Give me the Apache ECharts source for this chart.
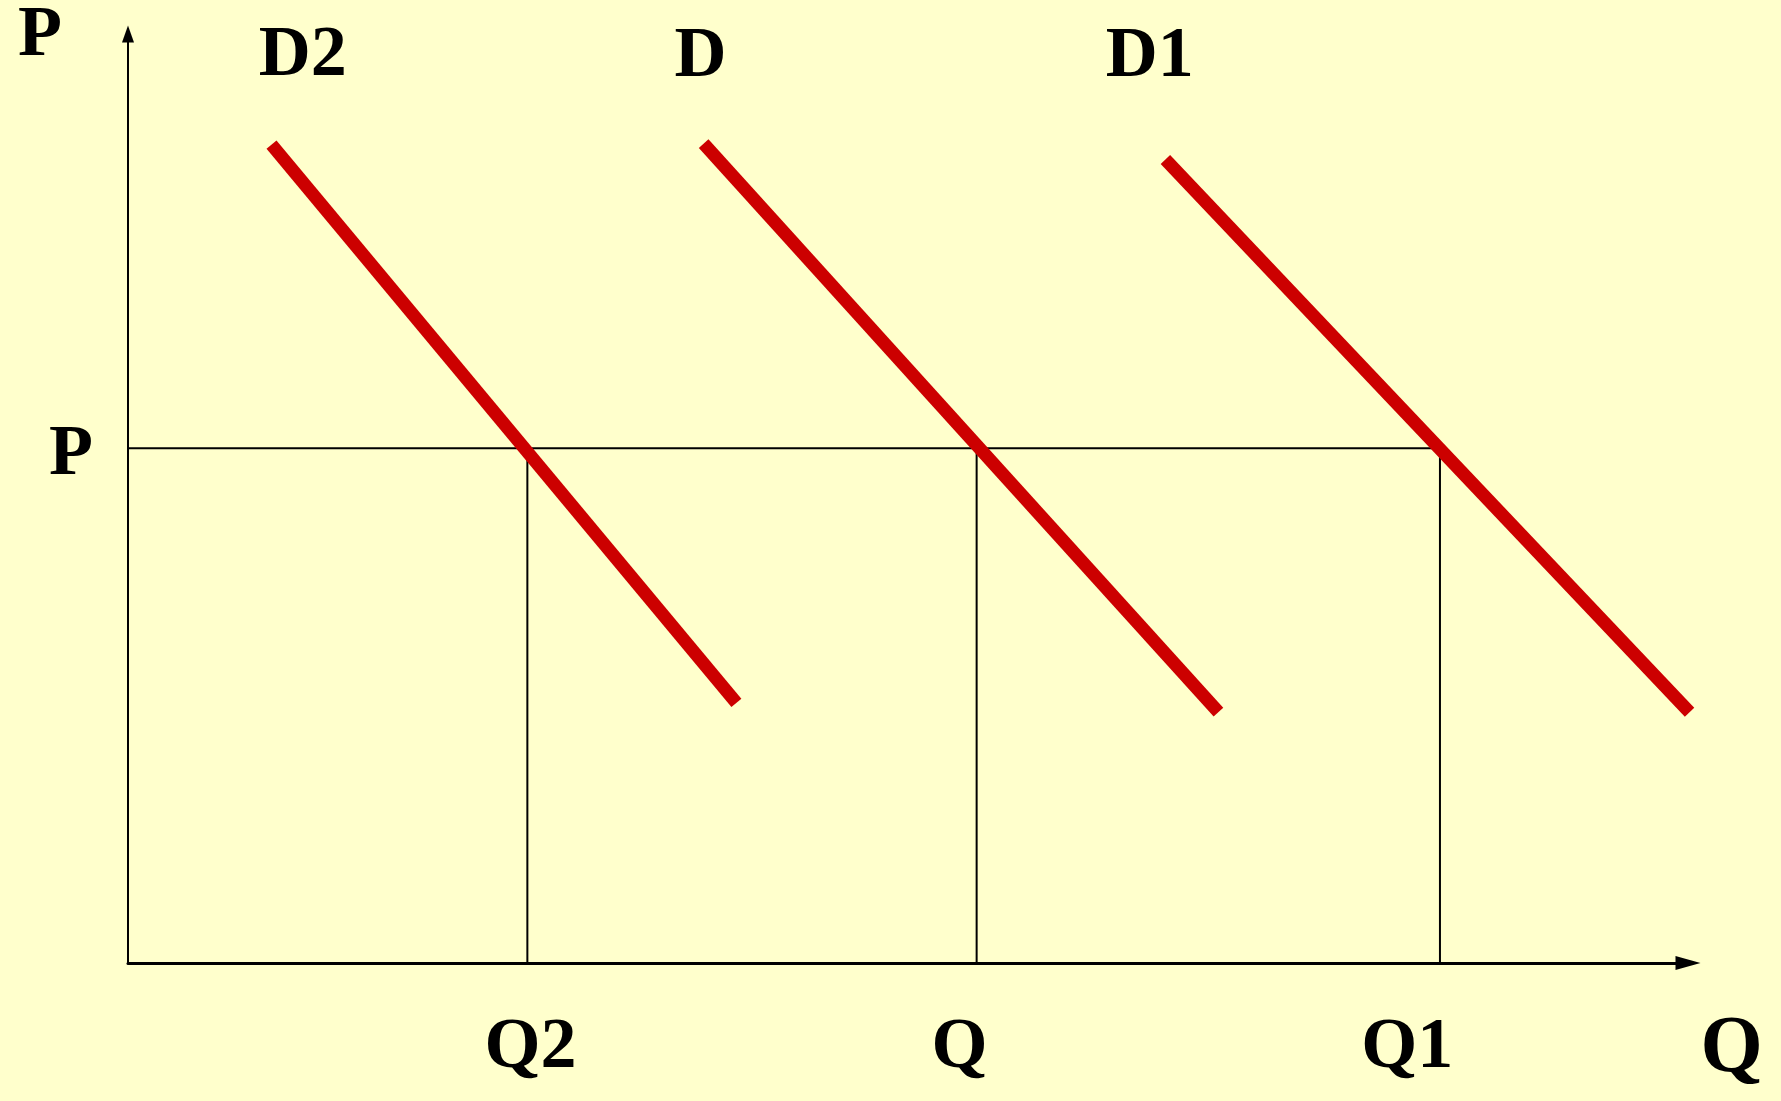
<!DOCTYPE html>
<html>
<head>
<meta charset="utf-8">
<title>Demand shifts</title>
<script src="https://cdn.jsdelivr.net/npm/echarts@6/dist/echarts.min.js"></script>
<style>
  html, body { margin: 0; padding: 0; background: #ffffcc; }
  #chart { width: 1781px; height: 1101px; }
</style>
</head>
<body>
<div id="chart"></div>
<script>
// demand curves (quantity, price), data units 0..100
const curveNames = ['D2', 'D', 'D1'];
const d2Points = [[9.2, 88.1], [39.0, 28.0]];
const dPoints = [[36.9, 88.2], [69.9, 27.0]];
const d1Points = [[66.5, 86.5], [100.1, 27.0]];
const curveLabelAt = [[11.2, 97.6], [36.7, 97.5], [65.5, 97.5]];

// price level and the quantities demanded at it
const priceLevel = 55.4;
const quantities = [25.6, 54.4, 84.1];
const quantityNames = ['Q2', 'Q', 'Q1'];
const quantityLabelAt = [25.8, 53.3, 82.0];
const priceLabelAt = 54.6;
const quantityAxisNameAt = [102.8, -9.4];

const font = '"Liberation Serif", "Times New Roman", serif';
const chart = echarts.init(document.getElementById('chart'));

const curveSeries = [d2Points, dPoints, d1Points].map((pts, i) => ({
  name: curveNames[i],
  type: 'line',
  data: pts,
  symbol: 'none',
  clip: false,
  silent: true,
  z: 5,
  lineStyle: { color: '#cc0000', width: 13, cap: 'butt' }
}));

// thin guide lines: price line and drops to the axis
const guideStyle = { color: '#000', width: 2 };
const guideSeries = [{
  type: 'line',
  data: [[0, priceLevel], [Math.max(...quantities), priceLevel]],
  symbol: 'none',
  silent: true,
  z: 3,
  lineStyle: guideStyle
}].concat(quantities.map(q => ({
  type: 'line',
  data: [[q, 0], [q, priceLevel]],
  symbol: 'none',
  silent: true,
  z: 3,
  lineStyle: guideStyle
})));

function textSeries(points, names, size) {
  return {
    type: 'scatter',
    symbolSize: 0,
    silent: true,
    clip: false,
    itemStyle: { opacity: 1 },
    data: points.map((p, i) => ({ value: p, name: names[i] })),
    label: {
      show: true,
      position: 'inside',
      formatter: p => p.name,
      color: '#000',
      fontFamily: font,
      fontWeight: 'bold',
      fontSize: size
    }
  };
}

chart.setOption({
  backgroundColor: '#ffffcc',
  animation: false,
  grid: { left: 128, right: 93, top: 33, bottom: 138 },
  xAxis: {
    type: 'value',
    min: 0,
    max: 100,
    splitLine: { show: false },
    axisTick: { show: false },
    axisLine: {
      onZero: false,
      symbol: ['none', 'triangle'],
      symbolSize: [14, 25],
      lineStyle: { color: '#000', width: 3 }
    },
    axisLabel: {
      customValues: quantityLabelAt,
      formatter: v => quantityNames[quantityLabelAt.indexOf(v)] || '',
      margin: 85,
      verticalAlign: 'middle',
      color: '#000',
      fontFamily: font,
      fontWeight: 'bold',
      fontSize: 72
    }
  },
  yAxis: {
    type: 'value',
    min: 0,
    max: 100,
    name: 'P',
    nameLocation: 'end',
    nameGap: -2,
    nameTextStyle: {
      color: '#000', fontFamily: font, fontWeight: 'bold', fontSize: 72,
      align: 'right', verticalAlign: 'middle', padding: [0, 66, 0, 0]
    },
    splitLine: { show: false },
    axisTick: { show: false },
    axisLine: {
      onZero: false,
      symbol: ['none', 'triangle'],
      symbolSize: [12, 17],
      lineStyle: { color: '#000', width: 2 }
    },
    axisLabel: {
      customValues: [priceLabelAt],
      formatter: () => 'P',
      margin: 35,
      color: '#000',
      fontFamily: font,
      fontWeight: 'bold',
      fontSize: 72
    }
  },
  series: guideSeries.concat(curveSeries, [
    textSeries(curveLabelAt, curveNames, 72),
    textSeries([quantityAxisNameAt], ['Q'], 80)
  ])
});
</script>
</body>
</html>
